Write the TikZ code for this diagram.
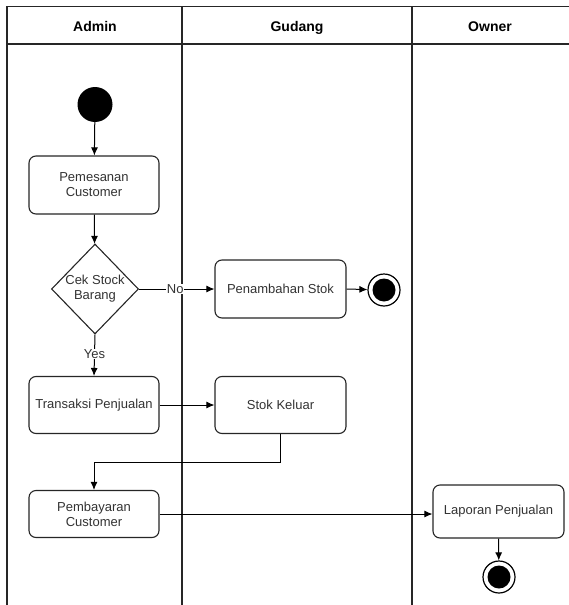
\documentclass[tikz,border=0pt]{standalone}
\usepackage{fontspec}
\setmainfont{Liberation Sans}
\usetikzlibrary{shapes.geometric,arrows.meta}
\begin{document}
\begin{tikzpicture}[x=1pt,y=-1pt,
  every node/.style={font=\fontsize{13}{15}\selectfont, text=black!80},
  hdr/.style={font=\bfseries\fontsize{14}{16}\selectfont, text=black, anchor=base},
  act/.style={draw=black!85, line width=1.1pt, rounded corners=7pt, align=center, inner sep=0pt, fill=white},
  lane/.style={draw=black!85, line width=1.2pt},
  flow/.style={draw=black, line width=1pt, -{Latex[length=8pt,width=7pt]}},
  lbl/.style={fill=white, inner sep=0.5pt}
]
\useasboundingbox (0,0) rectangle (569,605);
% swimlanes
\draw[lane] (7,605) -- (7,6.5) -- (569,6.5);
\draw[lane] (7,44) -- (569,44);
\draw[lane] (182,6.5) -- (182,605);
\draw[lane] (412,6.5) -- (412,605);
\node[hdr] (hA) at (95,31) {Admin};
\node[hdr] (hG) at (297,31) {Gudang};
\node[hdr] (hO) at (490,31) {Owner};
% nodes
\node[circle, fill=black, minimum size=35pt, inner sep=0pt] (start) at (95,104.5) {};
\node[act, minimum width=130pt, minimum height=58pt] (pesan) at (94,185) {Pemesanan\\Customer};
\node[diamond, draw=black!85, line width=1.1pt, fill=white, minimum width=87pt, minimum height=90pt, inner sep=0pt, align=center] (cek) at (95,289) {Cek Stock\\Barang};
\node[act, minimum width=131pt, minimum height=58pt] (tambah) at (280.5,289) {Penambahan Stok};
\node[circle, draw=black, line width=1.2pt, minimum size=32pt, inner sep=0pt] (end1) at (384,290) {};
\fill[black] (end1.center) circle (11.5pt);
\node[act, minimum width=130pt, minimum height=57pt] (trans) at (94,405) {Transaksi Penjualan};
\node[act, minimum width=131pt, minimum height=57pt] (keluar) at (280.5,405) {Stok Keluar};
\node[act, minimum width=130pt, minimum height=47pt] (bayar) at (94,514) {Pembayaran\\Customer};
\node[act, minimum width=131pt, minimum height=53pt] (lapor) at (498.5,511.5) {Laporan Penjualan};
\node[circle, draw=black, line width=1.2pt, minimum size=32pt, inner sep=0pt] (end2) at (499,577) {};
\fill[black] (end2.center) circle (11.5pt);
% connectors
\draw[flow] (start) -- (pesan);
\draw[flow] (pesan) -- (cek);
\draw[flow] (cek.east) -- node[lbl, pos=0.48] {No} (tambah.west);
\draw[flow] (tambah.east) -- (end1);
\draw[flow] (cek.south) -- node[lbl, pos=0.46] {Yes} (trans.north);
\draw[flow] (trans.east) -- (keluar.west);
\draw[flow] (keluar.south) -- ++(0,28) -| (bayar.north);
\draw[flow] (bayar.east) -- (bayar.east -| lapor.west);
\draw[flow] (lapor.south) -- (end2);
\end{tikzpicture}
\end{document}
